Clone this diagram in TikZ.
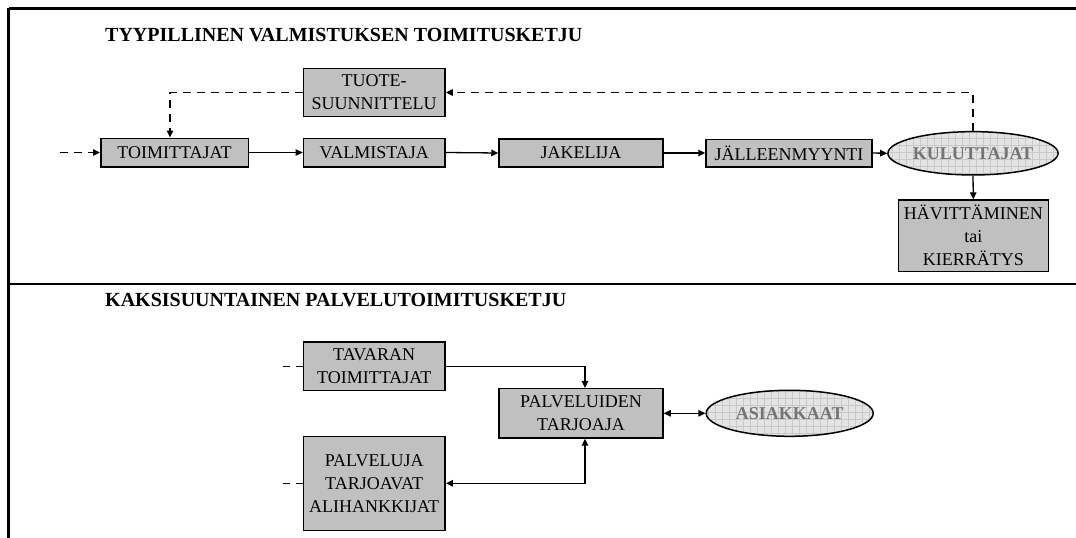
\documentclass[tikz,border=0pt]{standalone}
\usepackage{fontspec}
\setmainfont{Liberation Serif}
\usetikzlibrary{arrows.meta,shapes.geometric}

\definecolor{boxgray}{HTML}{C0C0C0}
\definecolor{ellfill}{HTML}{E4E4E4}
\definecolor{ellgrid}{HTML}{C9C9C9}
\definecolor{elltext}{HTML}{747474}

\tikzset{
  stagebox/.style={draw=black, line width=1.5pt, fill=boxgray, inner sep=0pt,
    align=center, font=\fontsize{18}{23}\selectfont},
  partyell/.style={ellipse, draw=black, line width=1.5pt, fill=ellfill, inner sep=0pt,
    font=\fontsize{18}{23}\selectfont\bfseries, text=elltext,
    path picture={\draw[ellgrid, line width=0.4pt]
      (path picture bounding box.south west) grid[step=7pt]
      (path picture bounding box.north east);}},
  flow/.style={line width=1.3pt, -{Triangle[length=7pt,width=6.5pt]}},
  twoway/.style={line width=1.3pt, {Triangle[length=7pt,width=6.5pt]}-{Triangle[length=7pt,width=6.5pt]}},
  dflow/.style={flow, dash pattern=on 8pt off 6pt},
  dline/.style={line width=1.3pt, dash pattern=on 7pt off 6pt},
  frameline/.style={line width=3pt},
  heading/.style={anchor=base west, inner sep=0pt, font=\fontsize{20}{24}\selectfont\bfseries}
}

\begin{document}
\begin{tikzpicture}[x=1pt, y=-1pt]
\useasboundingbox (0,0) rectangle (1076,538);

% frame
\draw[frameline] (8.5,8) -- (1076,8) ;
\draw[frameline] (8.5,8) -- (8.5,538);
\draw[line width=2pt] (8.5,283.7) -- (1076,283.7);

% headings
\node[heading] (h1) at (105,41.7) {TYYPILLINEN VALMISTUKSEN TOIMITUSKETJU};
\node[heading] (h2) at (105,306.3) {KAKSISUUNTAINEN PALVELUTOIMITUSKETJU};

% manufacturing supply chain
\node[stagebox, minimum width=147.5pt, minimum height=28.5pt] (toim) at (174.5,152.5) {TOIMITTAJAT};
\node[stagebox, minimum width=141.7pt, minimum height=28.5pt] (valm) at (374.2,152.5) {VALMISTAJA};
\node[stagebox, minimum width=164pt, minimum height=28pt] (jak) at (581,153) {JAKELIJA};
\node[stagebox, minimum width=166pt, minimum height=27.5pt] (jall) at (789,153) {JÄLLEENMYYNTI};
\node[partyell, minimum width=150pt, minimum height=43.3pt] (kul) at (973,153.3) {KULUTTAJAT};
\node[stagebox, minimum width=150pt, minimum height=71.3pt] (hav) at (973.3,235.7) {HÄVITTÄMINEN\\tai\\KIERRÄTYS};
\node[stagebox, minimum width=141.7pt, minimum height=48.3pt] (tuote) at (374.2,92.5) {TUOTE-\\SUUNNITTELU};

\coordinate (in1) at (60,152.5);
\draw[dflow] (in1) -- (toim.west);
\draw[flow] (toim.east) -- (valm.west);
\draw[flow] (valm.east) -- (jak.west);
\draw[flow] (jak.east) -- (jall.west);
\draw[flow] (jall.east) -- (kul.west);
\draw[flow] (kul.south) -- (hav.north);
\draw[dflow] (kul.north) |- (tuote.east);
\draw[dflow] (tuote.west) -| ([xshift=-4.5pt]toim.north);

% two-way service supply chain
\node[stagebox, minimum width=141.7pt, minimum height=48.7pt] (tav) at (374.2,366.3) {TAVARAN\\TOIMITTAJAT};
\node[stagebox, minimum width=141.7pt, minimum height=94pt] (palj) at (374.2,483.3) {PALVELUJA\\TARJOAVAT\\ALIHANKKIJAT};
\node[stagebox, minimum width=164pt, minimum height=49.3pt] (pti) at (581,413.3) {PALVELUIDEN\\TARJOAJA};
\node[partyell, minimum width=167pt, minimum height=46pt] (asi) at (789.7,413.3) {ASIAKKAAT};

\coordinate (in2) at (283,366.3);
\coordinate (in3) at (283,483.3);
\draw[dline] (in2) -- (tav.west);
\draw[dline] (in3) -- (palj.west);
\draw[flow] (tav.east) -| ([xshift=4pt]pti.north);
\draw[twoway] (palj.east) -| ([xshift=4pt]pti.south);
\draw[twoway] (pti.east) -- (asi.west);
\end{tikzpicture}
\end{document}
